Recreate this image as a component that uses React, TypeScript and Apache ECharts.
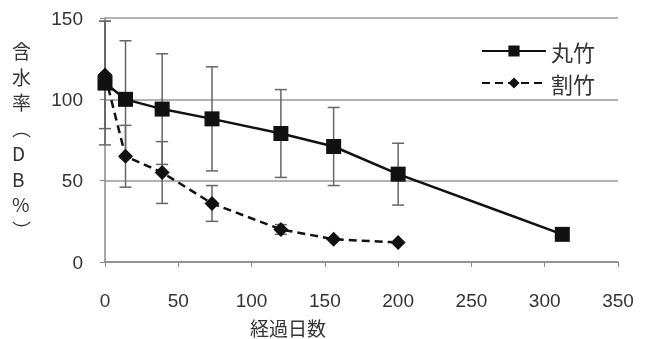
import React, { useEffect, useRef } from "react";
import * as echarts from "echarts";

const xTicks = [0, 50, 100, 150, 200, 250, 300, 350];
const yTicks = [0, 50, 100, 150];
const maruDays = [0, 14, 39, 73, 120, 156, 200, 312];
const maruValues = [110, 100, 94, 88, 79, 71, 54, 17];
const maruErr = [38, 36, 34, 32, 27, 24, 19, 0];
const wariDays = [0, 14, 39, 73, 120, 156, 200];
const wariValues = [115, 65, 55, 36, 20, 14, 12];
const wariErr = [33, 19, 19, 11, 3, 0, 0];
const seriesNames = ["丸竹", "割竹"];
const xName = "経過日数";
const yName = ["含", "水", "率", "︵", "D", "B", "%", "︶"];

export default function App() {
  const ref = useRef<HTMLDivElement>(null);
  useEffect(() => {
    if (!ref.current) return;
    const chart = echarts.init(ref.current, null, { renderer: "svg" });
    const errData: number[][] = [];
    maruDays.forEach((d, i) => {
      if (maruErr[i] > 0) errData.push([d, maruValues[i] - maruErr[i], maruValues[i] + maruErr[i]]);
    });
    wariDays.forEach((d, i) => {
      if (wariErr[i] > 0) errData.push([d, wariValues[i] - wariErr[i], wariValues[i] + wariErr[i]]);
    });
    const errStyle = { stroke: "#666", lineWidth: 1.5 };
    chart.setOption({
      animation: false,
      textStyle: { fontFamily: "Liberation Sans, Arial, sans-serif" },
      grid: { left: 105, right: 35, top: 18, bottom: 77, outerBoundsMode: "none" },
      legend: {
        data: seriesNames,
        orient: "vertical",
        left: 476,
        top: 35,
        itemWidth: 64,
        itemHeight: 14,
        itemGap: 10,
        textStyle: { fontSize: 22, color: "#333", fontFamily: "Noto Sans CJK JP" },
      },
      xAxis: {
        type: "value",
        min: xTicks[0],
        max: xTicks[xTicks.length - 1],
        interval: 50,
        axisLine: { show: true, lineStyle: { color: "#888", width: 1.5 } },
        axisTick: { show: true, length: 5, lineStyle: { color: "#888" } },
        axisLabel: { fontSize: 19, color: "#333", margin: 29 },
        splitLine: { show: false },
      },
      yAxis: {
        type: "value",
        min: yTicks[0],
        max: yTicks[yTicks.length - 1],
        interval: 50,
        axisLine: { show: true, lineStyle: { color: "#888", width: 1.5 } },
        axisTick: { show: true, length: 5, lineStyle: { color: "#888" } },
        axisLabel: { fontSize: 19, color: "#333", margin: 22 },
        splitLine: { show: true, lineStyle: { color: "#999", width: 1.5 } },
      },
      graphic: [
        {
          type: "text",
          left: 250,
          top: 317,
          style: { text: xName, fontSize: 19, lineHeight: 20, fill: "#333", fontFamily: "Noto Sans CJK JP" },
        },
        {
          type: "text",
          left: 12,
          top: 38,
          style: {
            text: yName.join("\n"),
            fontSize: 19,
            lineHeight: 25.5,
            fill: "#333",
            align: "center",
            fontFamily: "Noto Sans CJK JP",
            width: 22,
          },
        },
      ],
      series: [
        {
          type: "custom",
          name: "err",
          data: errData,
          z: 1,
          renderItem: (params: any, api: any) => {
            const x = api.value(0);
            const lo = api.coord([x, api.value(1)]);
            const hi = api.coord([x, api.value(2)]);
            const w = 6;
            return {
              type: "group",
              children: [
                { type: "line", shape: { x1: lo[0], y1: lo[1], x2: hi[0], y2: hi[1] }, style: errStyle },
                { type: "line", shape: { x1: lo[0] - w, y1: lo[1], x2: lo[0] + w, y2: lo[1] }, style: errStyle },
                { type: "line", shape: { x1: hi[0] - w, y1: hi[1], x2: hi[0] + w, y2: hi[1] }, style: errStyle },
              ],
            };
          },
        },
        {
          type: "line",
          name: seriesNames[0],
          data: maruDays.map((d, i) => [d, maruValues[i]]),
          symbol: "rect",
          symbolSize: 15,
          z: 3,
          lineStyle: { color: "#111", width: 2.5 },
          itemStyle: { color: "#111" },
        },
        {
          type: "line",
          name: seriesNames[1],
          data: wariDays.map((d, i) => [d, wariValues[i]]),
          symbol: "diamond",
          symbolSize: 15,
          z: 4,
          lineStyle: { color: "#111", width: 2.5, type: [8, 5] },
          itemStyle: { color: "#111" },
        },
      ],
    });
    return () => chart.dispose();
  }, []);
  return <div ref={ref} style={{ position: "fixed", left: 0, top: 0, width: 653, height: 339 }} />;
}
